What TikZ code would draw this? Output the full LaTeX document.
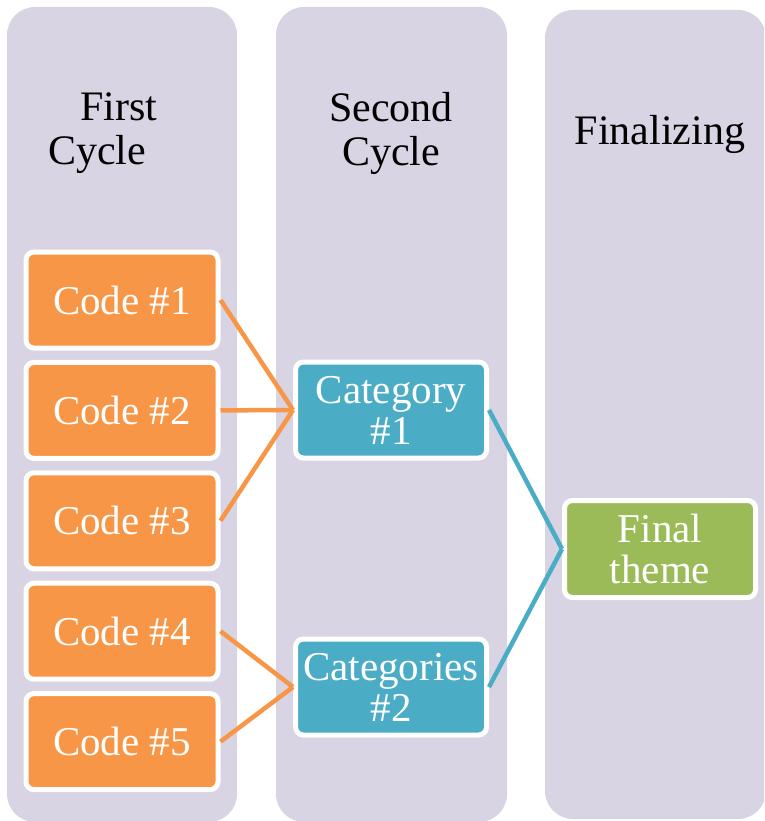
\documentclass[tikz,border=0pt]{standalone}
\usepackage{fontspec}
\setmainfont{Liberation Serif}
\usepackage{xcolor}
\usetikzlibrary{positioning}

\definecolor{colbg}{RGB}{216,212,227}
\definecolor{codeorange}{RGB}{247,150,70}
\definecolor{catteal}{RGB}{75,172,198}
\definecolor{themegreen}{RGB}{155,187,89}

\begin{document}
\begin{tikzpicture}[x=1pt, y=-1pt,
    column/.style={fill=colbg, rounded corners=28pt},
    title/.style={inner sep=0pt, font=\fontsize{42}{44}\selectfont, text=black},
    box/.style={draw=white, line width=5pt, rounded corners=8pt, inner sep=0pt,
        minimum width=192pt, minimum height=96pt, text=white, align=center,
        font=\fontsize{41}{41}\selectfont},
    codebox/.style={box, fill=codeorange},
    catbox/.style={box, fill=catteal, minimum width=191pt},
    finalbox/.style={box, fill=themegreen, minimum width=191pt, minimum height=97pt},
    codeline/.style={codeorange, line width=4.5pt},
    catline/.style={catteal, line width=4.5pt}]
    \useasboundingbox (0,0) rectangle (764,821);
    \clip (0,0) rectangle (764,821);

    % three stage columns
    \fill[column] (7,7) rectangle (237,822);
    \fill[column] (276,7) rectangle (507,822);
    \fill[column] (545,10) rectangle (766,819);

    \node[title, anchor=north west, align=left] (t1) at (48,92) {\hspace*{32pt}First\\Cycle};
    \node[title, anchor=north, align=center] (t2) at (391,92) {Second\\Cycle};
    \node[title, anchor=base] (t3) at (660,145) {Finalizing};

    % codes
    \foreach \i in {1,...,5}
        \node[codebox] (c\i) at (122,{300+110.4*(\i-1)}) {Code \#\i};

    % categories and theme
    \node[catbox] (cat1) at (391,410) {Category\\\#1};
    \node[catbox] (cat2) at (391,687) {Categories\\\#2};
    \node[finalbox] (fin) at (660,549) {Final\\theme};

    \foreach \i in {1,2,3}
        \draw[codeline] (c\i.east) -- (cat1.west);
    \foreach \i in {4,5}
        \draw[codeline] (c\i.east) -- (cat2.west);
    \draw[catline] (cat1.east) -- (fin.west);
    \draw[catline] (cat2.east) -- (fin.west);
\end{tikzpicture}
\end{document}
